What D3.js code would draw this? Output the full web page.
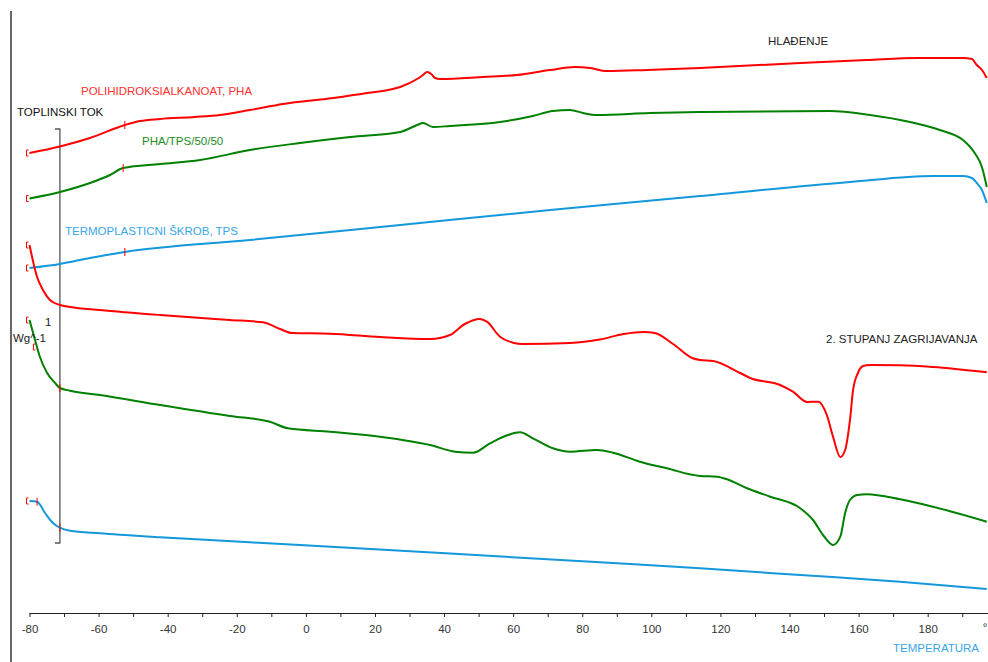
<!DOCTYPE html>
<html>
<head>
<meta charset="utf-8">
<script src="https://cdn.jsdelivr.net/npm/d3@7"></script>
<style>
  body { margin: 0; background: #fff; }
  svg text { font-family: "Liberation Sans", Arial, sans-serif; font-size: 11.5px; }
</style>
</head>
<body>
<div id="chart"></div>
<script>
const width = 988;
const height = 662;

// temperature (°C) and heat flow (arbitrary offset units)
// cooling ("HLAĐENJE")
const phaCool = [[-80,46.0],[-71.2,46.65],[-62.5,47.5],[-52.4,48.8],[-48,49.2],[-42.2,49.4],[-32.1,49.6],[-24.9,49.8],
  [-16.2,50.3],[-6.6,50.9],[7.9,51.5],[17.7,52.0],[27.3,52.6],[32.2,53.4],[33.9,53.8],[35.1,54.1],[36.3,53.9],[37.4,53.5],
  [38.8,53.4],[51.3,53.6],[61.1,53.8],[70.7,54.3],[77.9,54.6],[82.3,54.5],[87.1,54.2],[98.7,54.3],[114.1,54.5],
  [143.1,55.0],[162.4,55.3],[176.9,55.5],[190.2,55.5],[192.8,55.4],[194.2,54.8],[195.7,54.3],[197.1,53.5]];
const blendCool = [[-80,41.45],[-71.2,42.1],[-62.5,43.0],[-56.7,43.8],[-52.9,44.5],[-42.2,44.9],[-30.6,45.3],[-16.2,46.3],
  [-1.7,47.0],[12.8,47.6],[27.3,48.1],[32.2,48.8],[33.9,49.0],[36.8,48.6],[41.7,48.7],[56.2,49.1],[65.7,49.7],[71.5,50.2],
  [76.5,50.3],[80.2,50.0],[84.3,49.8],[99.6,50.0],[114.1,50.1],[151.7,50.2],[163.3,49.8],[174.9,49.1],[183.5,48.3],
  [190.2,47.3],[193.6,46.0],[195.7,44.6],[197.1,42.6]];
const tpsCool = [[-80,34.5],[-71.2,34.9],[-62.5,35.5],[-52.4,36.1],[-16.2,37.3],[27.3,38.8],[70.7,40.3],[114.1,41.7],
  [157.5,43.1],[181.5,43.7],[190.2,43.7],[192.8,43.5],[194.2,43.0],[195.7,42.3],[197.1,41.0]];

// second heating ("2. STUPANJ ZAGRIJAVANJA")
const phaHeat = [[-80,36.8],[-77.8,33.6],[-76.1,32.3],[-74.1,31.3],[-71.2,30.8],[-68.3,30.6],[-59.6,30.3],[-42.2,29.8],
  [-22.0,29.3],[-12.4,29.07],[-7.5,28.4],[-4.0,28.0],[7.0,27.93],[21.5,27.6],[36.0,27.4],[41.7,27.8],[46.0,28.9],
  [50.4,29.4],[52.4,29.13],[56.2,27.63],[60.0,27.03],[62.8,26.9],[76.5,27.0],[85.1,27.35],[92.0,27.9],[97.8,28.1],
  [101.0,28.0],[106.3,26.9],[111.8,25.5],[114.1,25.3],[117.9,25.2],[125.7,24.0],[128.6,23.5],[137.3,22.8],[141.0,22.13],
  [145.1,21.1],[148.3,21.13],[150.8,19.8],[152.6,17.63],[154.7,15.6],[156.1,16.3],[157.5,19.3],[158.4,22.3],[159.8,24.0],
  [161.3,24.7],[163.3,24.8],[172.0,24.77],[181.5,24.6],[197.1,24.07]];
const blendHeat = [[-80,29.3],[-78.4,27.3],[-77.0,25.63],[-74.9,24.0],[-72.6,23.0],[-71.2,22.5],[-68.3,22.23],[-59.6,21.8],
  [-42.2,20.8],[-22.0,19.7],[-10.4,19.13],[-5.2,18.47],[7.0,18.13],[21.5,17.63],[36.0,16.8],[43.2,16.13],[48.4,16.03],
  [53.3,16.97],[58.5,17.8],[62.0,18.07],[65.7,17.47],[71.5,16.47],[76.5,16.13],[84.3,16.3],[88.9,16.03],[96.7,15.13],
  [104.5,14.47],[114.1,13.7],[119.1,13.63],[121.9,13.37],[127.7,12.47],[134.4,11.63],[143.1,10.47],[146.8,9.3],
  [149.7,7.8],[152.6,6.8],[154.7,7.63],[156.1,10.0],[157.5,11.3],[159.6,11.8],[162.4,11.87],[172.0,11.37],[181.5,10.63],
  [197.1,9.13]];
const tpsHeat = [[-80,11.2],[-77.8,11.13],[-75.5,10.0],[-73.2,9.0],[-71.2,8.53],[-68.3,8.23],[-59.6,7.97],[-42.2,7.57],
  [-1.7,6.8],[41.7,5.95],[85.1,5.07],[114.1,4.47],[143.1,3.8],[172.0,3.13],[197.1,2.4]];

const xTicks = [-80,-60,-40,-20,0,20,40,60,80,100,120,140,160,180];
// analysis markers: start brackets and tick marks
const bracketMarks = [[-80,46.0],[-80,41.45],[-80,36.8],[-80,34.5],[-80,29.3],[-78,26.6],[-80,11.2]];
const tickMarks = [[-52.4,48.8],[-52.9,44.5],[-52.4,36.1],[-77.8,11.13],[-71.2,22.5],[-71.2,8.53]];

const red = "#ff0000", green = "#008000", blue = "#1398dc";

const x = d3.scaleLinear().domain([-80, 180]).range([29.5, 927.7]);
const y = d3.scaleLinear().domain([0, 60]).range([613, 13]);

const svg = d3.select("#chart").append("svg")
  .attr("width", width)
  .attr("height", height);

// left frame line
svg.append("line")
  .attr("x1", 11).attr("x2", 11)
  .attr("y1", 11).attr("y2", height)
  .attr("stroke", "#000").attr("stroke-width", 1.2);

// x axis
const xAxis = d3.axisBottom(x)
  .tickValues(d3.range(-80, 200, 10))
  .tickSize(4)
  .tickFormat(d => xTicks.includes(d) ? d : "");
const gx = svg.append("g")
  .attr("transform", `translate(0,${y(0)})`)
  .call(xAxis);
gx.select(".domain").attr("d", `M${x(-80)},0.5H${width}`).attr("stroke", "#222");
gx.selectAll(".tick line").attr("stroke", "#222");
gx.selectAll(".tick text")
  .attr("fill", "#333")
  .attr("dy", "1.1em")
  .style("font-size", "11.5px")
  .style("font-family", "Liberation Sans, Arial, sans-serif");

svg.append("text").attr("x", 985).attr("y", 631).attr("text-anchor", "middle")
  .attr("fill", "#333").text("°");
svg.append("text").attr("x", 893).attr("y", 652).attr("fill", "#3aa6e8").text("TEMPERATURA");

// heat flow bracket
const bx = x(-71.2);
svg.append("path")
  .attr("d", `M${bx - 5},${y(48.4)}H${bx}V${y(7.0)}H${bx - 5}`)
  .attr("fill", "none").attr("stroke", "#555").attr("stroke-width", 1.3);

const line = d3.line()
  .x(d => x(d[0]))
  .y(d => y(d[1]))
  .curve(d3.curveMonotoneX);

const curves = [
  [phaCool, red], [blendCool, green], [tpsCool, blue],
  [phaHeat, red], [blendHeat, green], [tpsHeat, blue]
];
svg.append("g").selectAll("path")
  .data(curves)
  .join("path")
  .attr("d", d => line(d[0]))
  .attr("fill", "none")
  .attr("stroke", d => d[1])
  .attr("stroke-width", 2);

// red markers
svg.append("g").selectAll("path")
  .data(bracketMarks)
  .join("path")
  .attr("d", d => {
    const px = x(d[0]) - 3, py = y(d[1]);
    return `M${px + 2},${py - 3}H${px}V${py + 3}H${px + 2}`;
  })
  .attr("fill", "none").attr("stroke", red).attr("stroke-width", 1);
svg.append("g").selectAll("line")
  .data(tickMarks)
  .join("line")
  .attr("x1", d => x(d[0])).attr("x2", d => x(d[0]))
  .attr("y1", d => y(d[1]) - 4).attr("y2", d => y(d[1]) + 4)
  .attr("stroke", red).attr("stroke-width", 1);

// labels
const labels = [
  ["TOPLINSKI TOK", 17, 116, "#111"],
  ["POLIHIDROKSIALKANOAT, PHA", 81, 95, "#ff3030"],
  ["PHA/TPS/50/50", 142, 145, "#228b22"],
  ["TERMOPLASTICNI ŠKROB, TPS", 65, 235, "#3aa6e8"],
  ["HLAĐENJE", 768, 45, "#222"],
  ["2. STUPANJ ZAGRIJAVANJA", 826, 343, "#222"],
  ["1", 45, 326, "#222"],
  ["Wg^-1", 13, 342, "#222"]
];
svg.append("g").selectAll("text")
  .data(labels)
  .join("text")
  .attr("x", d => d[1])
  .attr("y", d => d[2])
  .attr("fill", d => d[3])
  .text(d => d[0]);
</script>
</body>
</html>
